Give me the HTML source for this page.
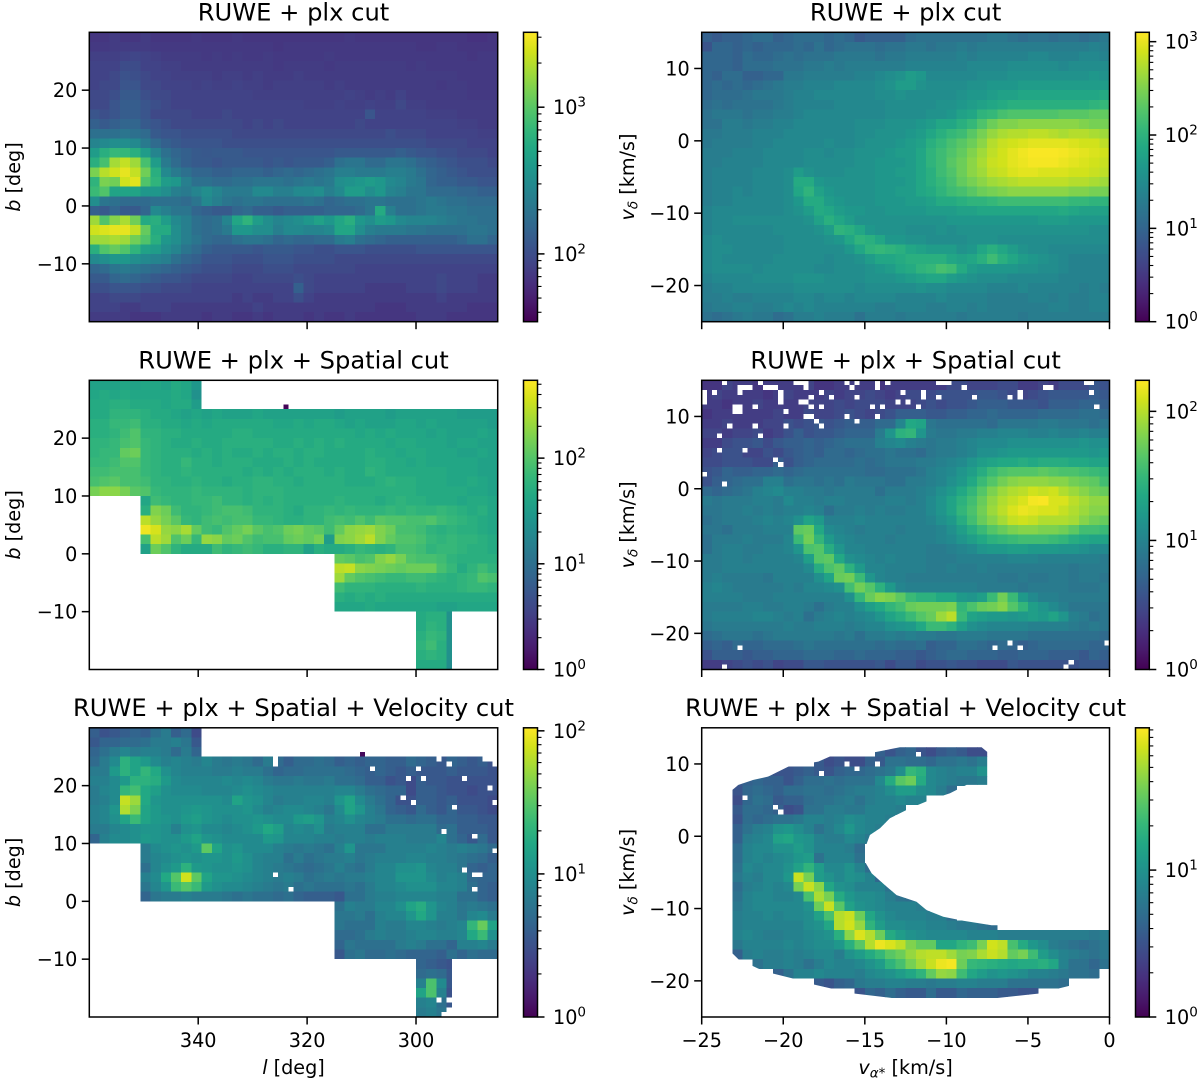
<!DOCTYPE html>
<html lang="en">
<head>
<meta charset="utf-8">
<title>RUWE plx spatial velocity cuts</title>
<style>
html,body{margin:0;padding:0;background:#fff;}
svg{display:block;font-family:"DejaVu Sans","Liberation Sans",sans-serif;fill:#000;}
</style>
</head>
<body>
<svg id="figure" xmlns="http://www.w3.org/2000/svg" width="1200" height="1081" viewBox="0 0 1200 1081"></svg>
<script>
/* Heatmap values: position on the log colour scale (1-100), 0 = empty bin. 40 columns, 30 rows, top row first. */
const galacticAll = [
[14,14,16,14,14,16,14,14,14,14,15,14,14,14,15,14,14,14,14,14,14,14,14,14,14,15,14,14,14,14,14,14,14,14,14,14,14,13,13,14],
[15,15,16,16,16,16,15,15,15,15,15,15,15,15,15,15,15,15,14,15,15,15,15,15,15,15,15,15,15,15,15,15,14,14,15,15,14,14,14,14],
[17,17,17,18,19,18,17,16,16,16,16,15,16,15,16,15,15,16,15,15,15,15,15,16,15,15,15,15,15,15,15,15,15,15,15,15,15,14,15,15],
[18,18,18,21,21,18,18,17,17,16,16,16,16,16,16,16,16,16,15,16,16,16,16,15,16,16,16,16,16,16,16,15,16,15,15,15,15,15,15,15],
[18,18,20,23,22,20,18,18,17,17,17,17,16,17,17,16,17,16,16,16,17,16,16,16,16,16,16,16,16,16,16,16,16,16,16,16,15,15,15,15],
[18,20,20,24,24,20,20,18,18,18,17,18,17,17,18,17,17,16,17,17,17,17,17,16,17,16,16,16,16,16,16,16,16,16,15,16,16,15,15,15],
[20,20,22,26,26,22,20,20,18,18,18,18,18,18,18,18,17,17,17,17,17,17,17,17,17,18,17,16,17,16,18,16,16,16,16,16,16,15,15,15],
[20,20,24,27,27,24,22,20,18,18,18,18,18,18,18,18,18,18,18,18,18,17,17,17,18,17,17,18,17,17,20,17,17,16,16,16,16,16,16,16],
[24,22,24,27,27,24,20,20,20,20,18,18,18,20,18,18,18,18,18,18,18,18,18,18,18,18,18,24,18,18,18,18,18,17,17,17,16,16,16,16],
[28,26,28,30,30,26,24,22,20,20,20,20,20,20,20,18,20,18,20,18,18,18,18,18,18,18,20,18,18,18,18,18,18,18,18,18,17,17,16,16],
[34,34,34,36,34,32,26,24,24,22,22,22,22,22,20,20,20,20,20,20,20,20,20,20,20,20,20,20,20,22,20,20,20,18,18,18,18,18,17,17],
[42,44,46,46,44,38,32,28,26,24,24,24,24,22,22,22,22,22,22,22,22,22,22,22,22,22,22,22,22,22,22,22,22,20,20,20,20,18,18,18],
[52,60,64,64,60,52,42,34,30,28,26,25,26,26,26,24,24,24,24,24,24,24,24,24,26,26,26,26,26,26,28,26,24,24,22,22,20,20,20,18],
[60,68,85,90,84,68,52,38,32,28,26,26,24,26,26,26,26,24,26,24,26,26,26,28,34,36,36,32,32,36,36,34,30,28,26,24,22,22,22,20],
[78,88,92,96,90,76,60,44,38,34,30,30,28,28,30,30,30,28,30,32,30,32,34,36,40,40,38,38,38,40,40,38,34,30,28,26,24,22,22,22],
[62,78,76,92,95,70,62,52,50,40,34,34,32,32,34,34,36,36,36,34,36,38,36,38,46,48,50,52,50,44,42,38,36,30,28,28,26,26,24,24],
[65,70,55,55,55,50,50,46,40,38,42,46,42,38,38,38,44,44,40,40,44,44,46,40,44,52,52,46,50,42,40,36,36,32,32,32,30,30,28,28],
[46,36,34,32,32,32,34,34,34,32,36,44,40,36,34,36,36,34,34,34,34,36,34,30,32,34,34,36,36,34,34,34,36,38,36,34,34,32,32,32],
[28,26,30,26,26,30,44,40,36,36,30,28,26,26,30,32,28,28,26,28,28,28,28,30,30,30,32,36,58,40,34,34,36,38,38,36,36,34,34,34],
[84,70,80,86,76,58,60,52,44,40,34,32,34,42,56,62,52,46,42,44,46,50,54,50,56,60,50,46,52,50,44,42,42,42,40,38,36,36,34,34],
[92,94,96,96,90,74,58,58,46,40,34,32,34,38,50,50,46,46,40,44,44,42,42,44,56,56,46,40,38,38,38,36,36,34,34,34,34,36,36,34],
[84,84,86,84,76,70,60,50,46,40,36,32,30,30,34,36,36,34,30,32,30,30,32,32,38,40,34,32,30,28,28,28,28,28,28,28,30,34,34,30],
[60,70,74,70,62,54,52,46,42,36,32,28,26,26,26,26,24,26,26,26,24,24,22,22,24,24,24,22,22,22,22,22,24,24,24,24,24,24,24,24],
[44,46,50,50,46,44,42,40,34,30,28,24,24,24,22,22,22,24,24,24,22,22,22,22,20,20,20,20,20,20,20,20,20,20,20,20,20,20,20,20],
[30,32,36,38,36,34,32,30,28,26,24,22,22,22,20,20,20,22,22,22,20,20,20,20,20,20,18,18,18,18,18,18,18,18,18,18,18,18,18,18],
[26,26,30,32,30,28,26,24,24,22,20,20,20,20,18,18,20,20,20,20,22,20,18,18,18,18,18,18,18,18,18,18,18,18,20,18,18,18,16,16],
[22,22,24,24,24,22,22,20,20,20,18,18,18,18,18,18,18,18,18,18,28,20,18,18,18,18,18,16,16,16,16,18,18,18,20,18,18,18,16,16],
[18,18,20,20,20,18,18,18,18,18,18,18,18,18,16,18,16,16,18,18,22,18,16,16,16,16,16,16,16,16,16,16,16,16,18,16,16,16,16,16],
[18,18,18,16,16,18,18,18,16,16,16,16,16,16,16,16,18,16,16,16,16,16,16,16,16,16,16,16,14,14,14,16,16,16,16,16,16,14,14,14],
[16,16,16,16,14,14,14,16,16,16,16,14,16,16,14,14,16,14,16,16,16,14,16,14,14,16,14,14,14,14,14,14,16,16,16,14,14,14,14,14]
];
const galacticAllStarts = [];

const velocityAll = [
[24,22,24,24,26,28,28,24,26,28,28,28,26,28,26,22,24,24,24,24,28,30,30,30,30,30,30,30,32,32,30,28,30,30,28,30,30,28,30,32],
[20,26,26,24,26,24,26,26,26,28,26,30,26,28,30,30,30,28,30,30,32,32,30,32,32,34,32,34,34,34,34,34,34,34,34,34,34,34,36,34],
[26,26,26,24,28,26,26,28,30,28,30,30,30,32,32,32,32,30,32,32,34,34,34,34,34,36,34,36,36,36,36,36,38,38,36,36,36,38,38,36],
[26,26,26,24,28,28,28,30,30,30,32,32,34,32,34,34,34,34,34,34,36,36,36,36,36,36,38,38,38,38,40,40,40,40,40,38,40,40,40,40],
[26,24,28,28,24,24,26,26,32,32,34,34,34,34,34,36,36,38,40,42,46,44,38,38,38,38,38,40,40,40,42,42,42,42,42,42,42,42,44,42],
[26,28,26,28,26,28,30,32,34,34,36,36,36,38,38,38,38,40,42,46,46,42,40,40,40,40,42,42,44,44,44,46,46,46,46,46,46,46,46,46],
[26,28,28,28,30,32,32,32,34,36,36,38,38,38,38,38,38,40,40,42,40,40,40,40,40,42,44,44,46,48,48,50,50,50,50,50,50,50,50,52],
[28,30,28,30,30,30,30,32,34,36,36,36,36,38,38,38,38,38,40,40,40,40,40,42,42,44,46,48,50,52,54,54,54,54,54,54,54,54,56,58],
[30,32,32,32,30,32,32,34,34,36,38,38,38,38,38,38,38,38,40,40,40,40,42,42,44,48,50,56,58,62,64,64,64,64,64,66,66,66,68,68],
[30,30,34,34,32,34,34,36,36,38,38,38,38,38,38,40,40,40,42,42,42,44,46,50,50,54,58,64,70,74,74,76,76,76,76,76,76,74,72,72],
[32,32,34,34,34,36,36,36,38,38,38,38,38,38,38,40,40,42,42,42,44,46,50,54,58,60,66,72,78,82,84,84,86,86,84,82,84,84,82,80],
[32,34,34,34,34,36,36,38,38,38,38,38,40,38,38,40,42,42,42,44,46,48,54,58,62,66,70,76,84,88,90,92,94,94,94,94,92,90,90,86],
[34,34,34,36,36,36,38,38,38,38,40,40,38,40,40,42,42,42,44,46,46,50,56,60,64,68,74,80,86,90,94,97,99,99,99,98,96,94,92,90],
[34,34,36,36,36,36,38,38,38,38,40,40,40,40,40,42,42,44,44,44,46,50,56,60,66,70,76,82,88,90,94,96,98,98,98,96,94,92,90,88],
[34,36,36,36,36,38,38,38,40,46,42,40,40,40,42,42,42,44,44,46,46,50,54,60,64,70,76,80,86,88,92,94,94,92,92,92,90,90,88,86],
[34,36,36,36,36,38,38,38,40,52,52,44,42,42,42,42,42,44,44,44,46,50,54,58,62,68,72,76,80,82,84,86,86,86,86,86,84,84,82,80],
[34,36,36,38,36,38,38,38,40,50,56,48,44,42,42,42,42,44,44,46,46,50,52,56,60,62,66,70,72,74,76,76,76,76,76,76,74,74,72,72],
[34,36,36,38,38,38,38,38,40,44,52,52,46,44,42,42,42,44,44,44,46,46,48,52,52,54,56,56,58,60,60,60,60,60,60,60,58,58,56,56],
[36,38,38,38,38,38,38,38,40,42,46,52,50,46,44,44,42,42,44,44,44,44,46,46,46,48,48,50,50,50,50,50,50,50,50,52,50,48,48,48],
[36,38,38,40,40,40,40,40,40,40,42,48,54,50,46,42,42,42,42,42,42,42,42,42,44,44,44,44,44,44,44,44,44,46,46,46,44,44,44,44],
[36,38,38,38,38,38,38,40,40,40,40,42,46,56,54,50,44,42,42,42,40,40,40,42,40,42,42,42,42,42,42,42,42,42,42,42,42,42,40,40],
[38,40,38,38,38,38,38,38,40,40,40,40,42,44,50,56,54,50,44,44,42,42,40,40,40,40,42,42,42,40,40,40,40,40,40,40,40,40,40,40],
[38,40,40,38,38,38,38,38,40,40,40,40,40,40,44,50,56,58,56,54,50,48,46,46,46,42,44,50,54,50,46,42,40,40,38,38,38,38,38,38],
[38,40,38,38,38,38,38,40,40,40,40,40,38,40,40,42,46,50,50,52,54,54,54,54,50,48,50,54,60,54,50,46,44,42,40,38,36,36,36,36],
[38,40,40,40,40,38,40,40,40,40,40,38,38,40,40,40,42,44,46,50,52,56,58,62,60,52,46,44,44,44,44,42,42,40,40,38,36,36,36,36],
[36,38,38,38,38,40,40,40,40,42,42,42,40,40,40,40,42,42,42,44,46,48,50,50,46,44,42,40,40,40,38,38,38,38,38,36,36,36,36,36],
[34,36,36,38,38,38,38,38,38,40,40,40,40,40,40,38,40,40,40,40,40,42,40,40,38,38,38,38,36,36,36,38,36,36,36,36,36,34,36,34],
[34,34,36,34,34,36,36,36,36,38,38,36,38,38,36,38,38,38,38,36,36,36,36,38,36,36,36,36,34,34,34,34,36,36,34,36,34,34,36,36],
[32,34,34,36,36,34,34,36,38,36,38,36,36,36,36,36,36,34,34,36,36,36,34,34,36,36,34,36,34,34,34,34,34,34,36,36,34,34,36,36],
[30,28,30,32,34,32,32,28,30,34,34,36,34,34,34,30,34,34,34,32,34,34,34,34,34,32,34,34,34,34,34,32,34,34,34,34,34,34,34,34]
];
const velocityAllStarts = [];

const galacticSpatial = [
[46,46,46,48,46,48,48,46,50,48,42],
[48,50,48,50,48,48,48,48,50,48,40],
[50,50,52,52,50,50,50,48,50,50,44],
[50,50,54,54,54,52,50,50,48,46,48,46,48,46,46,46,48,46,46,46,46,46,46,46,44,46,46,46,46,44,46,46,46,46,46,46,44,44,44,44],
[52,52,56,56,58,52,52,50,50,48,50,48,50,50,50,50,50,50,48,48,50,48,50,50,48,46,48,46,46,46,48,48,46,48,46,46,46,46,46,44],
[52,52,54,58,62,54,54,52,52,50,50,50,50,50,52,52,50,50,50,50,50,50,50,50,50,50,48,50,48,50,48,48,48,46,48,46,46,46,48,46],
[54,54,56,60,62,56,54,52,50,50,52,50,50,52,52,52,52,52,50,50,52,50,52,50,52,50,50,50,50,48,50,50,48,48,48,46,48,48,46,46],
[54,56,56,66,68,56,54,52,52,52,50,52,50,52,50,50,52,50,52,52,50,52,52,50,50,50,50,52,50,50,48,50,50,48,48,48,46,46,48,46],
[56,56,58,62,62,56,54,52,52,56,52,52,50,52,52,52,50,50,50,52,50,52,50,50,50,50,50,52,52,50,50,48,50,48,48,48,48,48,46,46],
[58,58,60,60,60,56,54,52,52,54,52,52,52,52,52,50,52,50,52,50,52,52,52,50,52,50,50,54,52,50,50,50,50,50,50,48,48,48,46,46],
[60,62,64,60,60,58,54,54,52,52,54,52,52,50,52,52,54,54,52,52,50,52,52,52,52,50,50,50,52,54,52,52,50,50,50,48,48,50,48,46],
[70,74,74,70,64,62,56,54,54,54,56,54,54,54,54,52,54,54,54,52,52,52,52,52,52,52,52,52,52,52,52,52,50,50,50,50,50,48,48,46],
[48,58,56,54,54,56,56,58,54,54,52,54,52,54,52,52,52,52,52,54,52,52,52,50,52,54,52,52,50,50,50,48,50,50,48],
[52,72,68,58,54,54,56,58,60,60,58,54,54,54,52,50,54,54,56,54,56,54,54,54,56,54,56,54,54,56,54,52,50,52,48],
[84,76,70,64,56,54,58,60,58,60,60,56,56,54,52,52,54,54,58,60,58,62,58,64,62,62,60,60,62,58,56,54,52,50,48],
[96,90,76,74,80,66,58,56,62,66,70,64,60,62,68,70,66,64,58,66,74,76,78,72,68,60,60,58,54,52,54,52,52,50,48],
[60,84,78,62,68,56,76,74,66,68,62,58,60,60,66,68,66,70,44,72,74,78,84,72,66,62,62,60,56,54,56,54,54,52,50],
[46,68,62,54,50,50,50,58,54,56,58,56,52,52,54,54,46,52,50,50,52,56,54,52,54,60,60,58,54,56,56,54,52,52,50],
[66,64,60,62,72,76,70,62,60,60,58,54,52,52,52,52],
[84,86,74,72,70,68,66,68,68,68,60,56,50,54,58,54],
[78,66,62,60,58,56,56,58,58,56,54,52,54,56,62,60],
[58,54,54,54,52,52,52,52,54,52,52,52,54,56,56,54],
[52,50,52,50,52,50,50,50,50,50,50,50,50,50,50,50],
[48,48,48,50,48,48,48,48,48,48,46,46,48,48,48,48],
[50,52,52,40],
[50,54,52,40],
[52,56,54,40],
[54,58,52,40],
[52,54,52,40],
[50,50,50,38]
];
const galacticSpatialStarts = [0,0,0,0,0,0,0,0,0,0,0,0,5,5,5,5,5,5,24,24,24,24,24,24,32,32,32,32,32,32];

const velocitySpatial = [
[12,12,16,14,14,12,14,14,14,14,16,12,12,14,14,14,14,12,14,14,14,14,14,14,18,18,16,16,16,18,18,14,14,16,14,18,18,18,22,20],
[14,16,14,14,14,14,12,14,16,14,14,14,16,14,16,16,18,16,14,16,18,18,18,20,20,20,20,22,22,20,18,16,18,20,22,22,22,22,24,22],
[14,14,12,14,14,16,14,14,14,14,16,16,16,18,16,18,18,18,16,16,16,18,20,18,20,20,22,24,24,24,22,22,22,20,24,24,24,26,26,24],
[12,14,14,14,14,14,14,16,14,14,18,16,16,18,20,18,16,18,20,24,24,24,22,22,24,24,26,26,28,26,26,26,26,28,28,28,28,30,30,28],
[14,14,16,14,14,14,16,16,20,18,20,22,20,22,24,24,24,28,28,38,52,50,32,30,30,30,30,30,28,32,32,32,32,34,34,32,32,32,30,32],
[16,16,14,16,16,18,14,16,20,24,20,22,22,24,26,26,26,34,44,56,58,44,34,32,32,34,34,36,36,38,38,38,36,36,38,36,36,38,36,36],
[14,14,18,20,20,22,18,22,24,24,26,24,26,28,30,30,30,36,38,40,36,34,32,34,34,36,38,40,40,40,42,42,42,42,42,42,42,44,42,42],
[16,18,20,20,16,16,20,18,22,24,26,24,28,28,26,28,30,30,32,30,30,28,32,34,34,36,38,42,42,44,46,46,46,46,46,46,46,46,44,46],
[18,18,20,20,20,18,18,24,20,24,26,28,28,28,28,30,28,30,32,32,32,34,34,36,38,40,44,48,50,52,52,54,52,54,54,54,52,52,50,50],
[20,22,26,24,24,26,26,28,26,28,30,30,30,30,30,30,28,28,30,30,30,32,36,38,40,44,48,54,60,64,66,66,66,68,66,64,64,62,60,58],
[20,24,26,28,30,30,36,36,30,32,32,30,32,30,34,32,32,32,30,30,34,34,36,38,42,46,52,60,66,72,76,78,78,78,76,76,72,70,68,62],
[28,26,28,30,32,36,38,40,36,36,34,34,32,34,34,34,34,30,34,34,34,36,38,42,46,52,58,66,74,80,84,86,90,88,90,84,80,76,72,70],
[34,32,34,34,34,36,36,34,40,36,36,34,36,36,34,34,34,34,36,36,34,36,40,44,50,56,62,70,78,84,88,92,98,99,92,92,86,82,78,78],
[32,32,34,34,36,34,36,34,36,36,38,36,30,34,34,36,34,36,34,34,36,36,40,44,50,58,64,72,80,86,92,96,94,92,92,88,84,80,76,76],
[30,32,34,34,34,36,38,36,38,42,50,46,36,36,36,38,36,36,36,36,36,36,38,42,46,54,62,70,76,82,88,90,88,84,84,84,82,76,72,70],
[32,32,30,34,34,34,36,36,36,68,70,52,40,38,36,34,36,36,36,34,36,36,36,38,42,48,54,60,66,70,74,76,76,74,74,72,68,62,62,60],
[30,34,34,34,36,34,34,34,38,60,72,58,46,40,38,36,36,36,34,36,36,36,36,38,40,44,48,52,56,58,60,62,62,62,60,58,54,52,50,50],
[30,34,36,36,34,34,36,36,38,44,64,66,54,44,38,38,36,36,36,36,36,36,34,34,36,38,40,44,46,46,48,48,46,46,46,44,44,42,40,40],
[34,34,36,36,34,36,36,36,36,38,48,66,68,52,42,40,38,36,38,36,36,36,34,34,34,36,36,36,36,36,38,38,38,36,36,36,36,36,36,34],
[34,34,36,36,36,36,36,36,36,36,40,54,64,68,56,46,38,38,36,36,36,36,34,34,36,34,34,36,34,34,34,34,34,34,34,34,32,34,34,34],
[34,36,34,34,34,34,32,36,36,36,36,42,50,70,72,60,44,38,36,36,34,34,34,34,34,34,34,34,34,32,32,34,32,32,34,34,32,34,34,32],
[36,38,36,34,34,34,34,34,36,34,38,38,40,42,62,72,66,56,46,38,36,36,36,36,36,36,36,34,34,34,34,32,34,34,34,34,32,32,32,34],
[36,36,36,36,34,34,34,36,36,36,36,36,36,36,42,58,70,76,74,68,60,56,56,52,52,46,44,48,60,72,60,46,40,36,36,34,34,34,34,34],
[34,34,34,34,36,36,34,34,36,36,34,30,34,36,36,42,48,52,58,62,70,72,72,72,74,58,64,70,72,76,66,58,48,44,40,36,32,32,32,32],
[34,36,36,36,36,38,38,36,34,36,30,34,36,38,36,38,40,44,50,54,60,66,70,80,86,60,50,48,46,46,44,46,48,46,50,44,36,34,30,32],
[32,34,34,34,34,34,34,34,36,34,34,36,36,36,34,36,38,38,42,44,46,52,60,60,56,48,42,40,38,38,38,38,36,36,36,36,34,32,34,32],
[28,30,32,32,32,30,32,34,34,34,34,34,34,32,34,30,34,34,36,34,36,34,34,32,32,34,34,34,32,32,32,32,30,30,30,30,30,30,30,28],
[24,26,24,28,26,26,28,28,28,30,32,30,30,30,30,30,30,28,30,28,28,30,24,26,26,30,30,28,26,28,26,24,26,28,28,28,28,28,26,26],
[20,24,24,24,22,24,24,26,26,26,28,28,28,26,26,28,26,26,26,24,24,22,24,26,28,28,26,26,26,24,24,26,26,26,24,24,24,22,26,24],
[14,14,16,18,20,18,20,16,18,18,22,22,20,20,20,20,20,22,18,22,22,18,20,20,22,20,20,18,18,18,22,20,20,20,20,20,20,22,22,22]
];
const velocitySpatialStarts = [];

const galacticFull = [
[24,20,22,24,26,24,30,34,24,28,18],
[22,26,26,28,28,30,34,34,36,32,22],
[26,30,34,38,34,36,36,34,28,34,26],
[28,34,40,56,50,46,40,36,38,36,34,38,34,32,34,32,28,34,28,24,28,28,30,28,24,26,24,26,26,24,24,28,26,24,22,26,24,22,24,20],
[34,34,46,56,50,58,52,42,38,36,36,36,34,34,36,34,34,30,26,28,28,30,30,30,30,28,26,24,26,24,22,24,22,22,22,24,22,22,22,20],
[36,36,40,46,56,56,54,46,40,38,38,38,38,40,38,40,38,34,32,32,34,32,32,34,30,30,28,24,24,20,22,18,24,22,22,20,20,20,20,20],
[34,38,40,58,62,52,48,42,40,40,40,38,38,38,40,42,40,38,36,36,36,36,36,36,38,38,34,30,28,26,26,18,24,24,22,20,20,18,20,20],
[34,36,40,88,80,52,44,42,42,42,42,42,42,40,50,44,42,38,34,36,36,38,38,36,44,50,40,34,30,26,20,20,24,24,22,24,20,20,20,18],
[36,38,44,84,74,50,46,42,42,44,46,44,42,42,42,44,40,36,38,40,40,38,36,32,40,50,44,36,32,26,24,22,28,24,22,26,22,22,20,18],
[36,38,42,50,60,50,46,44,42,46,48,44,42,40,42,42,44,42,40,40,46,48,44,36,38,42,38,36,34,30,30,28,30,30,26,26,24,24,22,22],
[34,34,38,40,42,44,44,42,36,42,44,40,40,38,40,42,46,52,48,38,40,38,42,34,36,36,36,30,30,34,34,34,34,34,28,30,24,24,24,22],
[26,36,40,40,42,46,44,42,42,46,50,44,42,40,40,40,40,46,44,38,38,38,36,36,34,36,36,34,36,36,36,34,34,34,38,30,26,22,28,22],
[34,40,42,44,42,46,68,50,42,44,40,40,40,36,34,32,34,32,30,36,44,32,32,32,36,36,36,36,38,36,34,36,34,32,28],
[34,38,40,42,44,42,44,44,42,46,42,38,36,36,30,34,30,32,34,34,36,32,34,36,36,36,38,38,36,36,34,32,30,28,24],
[30,38,42,46,56,46,44,42,42,44,42,38,36,34,32,30,28,30,32,36,32,30,34,38,38,42,42,44,38,36,36,32,26,24,26],
[36,40,52,66,90,68,50,44,44,42,40,38,36,34,36,34,30,32,34,32,34,34,36,38,38,44,44,44,40,36,38,36,28,26,26],
[32,38,44,60,66,60,46,42,40,40,38,36,34,32,34,30,32,30,30,30,32,30,34,38,38,40,42,42,42,38,38,36,30,26,24],
[26,32,34,34,36,34,34,34,32,30,32,30,30,28,30,26,24,24,24,22,30,30,34,36,36,38,38,38,38,36,36,30,30,26,24],
[30,36,34,34,38,38,42,50,54,44,38,36,32,34,32,30],
[32,32,34,30,36,38,38,44,52,44,36,36,32,38,40,34],
[32,30,30,30,36,34,34,38,38,36,34,36,38,58,70,50],
[28,28,30,34,36,34,34,36,38,38,36,36,38,52,60,42],
[26,32,30,30,30,30,34,36,34,30,30,26,36,36,38,34],
[22,30,32,28,28,30,28,26,26,26,24,30,26,30,28,28],
[26,24,22,20],
[28,30,28,22],
[36,64,40,22],
[50,64,36,20],
[36,38,30,22],
[34,36,32]
];
const galacticFullStarts = [0,0,0,0,0,0,0,0,0,0,0,0,5,5,5,5,5,5,24,24,24,24,24,24,32,32,32,32,32,32];

const velocityFull = [
[],
[],
[24,20,24,26,20,18,22,24,22,18,18],
[22,18,20,18,18,24,22,30,30,28,28,26,30,30,32,30,34],
[22,20,20,22,24,22,20,24,26,26,28,30,32,40,58,54,38,36,34,36,36,42],
[22,24,26,24,24,20,24,28,28,30,28,30,30,30,38,52,66,70,52,38,36,34,32,32,34],
[20,26,28,26,24,28,28,30,30,28,30,32,34,34,36,40,46,46,40,38,34,28],
[18,26,30,28,22,24,24,28,30,30,32,34,30,34,36,36,38,36,36],
[22,28,28,26,24,18,20,30,30,34,34,32,32,36,36,36,34],
[20,28,26,28,30,30,32,36,36,34,36,40,38,36,36,34],
[24,30,34,36,42,44,40,36,30,34,38,44,38,36,34],
[24,34,36,38,48,50,44,42,36,34,34,38,36,32],
[28,36,38,38,42,42,46,42,36,36,36,34,28],
[28,36,38,36,38,40,44,46,30,36,36,36,30],
[30,38,36,38,38,42,48,56,46,38,38,42,36,28],
[32,36,34,38,38,44,88,72,46,42,38,42,40,36,26,24],
[28,34,36,38,36,38,72,88,76,50,42,40,36,36,36,30,26],
[30,36,38,38,36,36,38,62,82,72,52,44,40,40,38,34,30,28,26],
[32,36,38,38,38,38,38,42,70,88,66,48,42,40,38,36,36,36,34,30,28],
[34,36,36,38,36,38,38,40,48,62,84,88,70,50,42,38,36,36,36,34,34,28],
[34,36,36,36,36,36,36,40,42,50,84,90,78,56,46,40,40,38,38,36,36,34,32,32,30,28],
[36,38,36,34,34,36,36,38,40,42,54,76,92,84,70,52,46,42,40,38,38,38,38,36,36,36,34,34,34,34,34,34,34,34,34,32,34],
[32,36,36,36,36,38,36,38,40,40,44,54,66,84,96,92,86,74,68,68,50,50,56,60,72,90,86,62,52,44,40,34,32,30,28,30,32],
[24,34,36,34,34,36,34,36,38,38,34,42,46,52,58,66,70,78,84,86,86,80,72,74,82,88,84,68,72,60,46,40,36,34,32,30,32],
[30,34,34,36,34,30,34,38,36,36,38,42,46,56,62,72,80,88,96,98,70,58,56,54,52,50,52,52,54,50,36,30,30,26,30],
[24,30,36,36,38,36,36,36,34,38,40,42,46,50,56,68,78,76,60,50,46,42,44,42,40,36,36,34,32,30,30,28],
[22,20,24,26,32,34,34,36,36,34,34,32,34,34,36,36,34,34,34,30,30,30,30,30,28],
[20,26,24,28,24,22,22,28,22,22,26,24,24,24,22,22,20,20],
[],
[]
];
const velocityFullStarts = [0,0,17,11,6,3,3,3,3,3,3,3,3,3,3,3,3,3,3,3,3,3,3,3,5,7,11,15,0,0];

/* Empty single bins on the finer native histogram grid: [column of 80, row of 60]. */
const holesVelocitySpatial = [[4,0],[7,1],[8,1],[9,1],[7,2],[12,1],[13,1],[14,1],[15,2],[15,3],[15,4],[18,0],[19,0],[20,0],[20,1],[11,0],[0,2],[0,3],[0,4],[2,2],[29,1],[28,0],[30,0],[34,0],[34,1],[36,0],[46,0],[47,0],[48,0],[51,1],[43,2],[43,3],[62,2],[62,3],[67,1],[68,1],[75,0],[76,0],[76,2],[77,5],[39,2],[38,4],[40,4],[42,5],[33,5],[35,5],[30,3],[25,3],[23,2],[21,3],[19,4],[20,4],[21,5],[23,5],[16,6],[6,5],[7,5],[6,6],[7,6],[10,5],[20,7],[21,7],[22,8],[23,9],[28,7],[30,8],[34,7],[5,9],[10,9],[16,9],[3,11],[11,11],[3,14],[8,14],[14,16],[15,17],[0,19],[4,21],[46,3],[53,3],[60,3],[7,55],[4,59],[57,55],[60,54],[62,55],[79,54],[71,59],[72,58]];
const holesGalacticFull = [[36,7],[36,6],[55,8],[64,8],[62,10],[65,10],[73,10],[70,7],[79,7],[78,12],[61,14],[63,15],[79,15],[71,16],[69,21],[75,22],[79,25],[73,29],[75,30],[76,30],[36,30],[39,33],[75,33],[68,56],[70,56],[68,6],[77,6],[78,6],[79,6],[70,58],[70,59],[69,59]];
const holesVelocityFull = [[8,14],[14,16],[15,17],[23,9],[28,7],[30,8],[34,7],[42,5]];

/* Isolated low-count bins outside the main footprint: [column of 80, row of 60, colour level]. */
const strayGalacticSpatial = [[38,5,1]];
const strayGalacticFull = [[53,5,2]];

/* Regions with no coverage: [l start, l end, b bottom, b top]. */
const surveyGaps = [[339.4,285,25,30],[360,350.6,-20,10],[350.6,315,-20,0],[315,300,-20,-10],[293.4,285,-20,-10]];

/* Velocity-cut selection outline. */
const selectionVAlpha = [-7.5,-7.5,-8.76,-9.78,-11.01,-12.23,-13.46,-14.07,-14.69,-14.99,-14.99,-14.58,-13.77,-13.05,-11.83,-11.21,-10.19,-8.97,-7.23,-2.84,-0.59,0,0,-0.69,-1.92,-3.15,-4.37,-7.23,-13.05,-15.6,-17.03,-18.36,-19.38,-20.61,-21.53,-22.75,-23.12,-23.12,-22.75,-21.83,-20.91,-19.69,-17.85,-17.14,-16.22,-14.28,-12.85,-7.84];
const selectionVDelta = [11.67,7.1,7.1,5.95,5.02,3.87,2.48,1.1,0.17,-1.67,-3.52,-5.14,-6.76,-8.14,-9.07,-10.22,-11.14,-11.7,-12.3,-12.3,-11.14,-10.96,-19,-19.69,-20.38,-21.07,-21.77,-22.46,-22.46,-21.77,-21.07,-20.38,-19.69,-19,-18.3,-17,-16.2,6.41,7.1,7.8,8.26,9.64,10.33,11.03,11.03,11.67,12.32,12.32];

/* Axis tick labels and colour-scale limits. */
const galacticXTicks = [340,320,300];
const galacticYTicks = [-10,0,10,20];
const velocityXTicks = [-25,-20,-15,-10,-5,0];
const velocityYTicks = [-20,-10,0,10];
const panelTitles = ["RUWE + plx cut","RUWE + plx + Spatial cut","RUWE + plx + Spatial + Velocity cut"];
const colourMinimum = [34.5,1,1,1,1,1];
const colourMaximum = [3240,1260,545,174,105,93];
const toneLift = [3,9,11,8,8,9];
const viridisStops = ["#440154","#481a6c","#472f7d","#414487","#39568c","#31688e","#2a788e","#23888e","#1f988b","#22a884","#35b779","#54c568","#7ad151","#a5db36","#d2e21b","#fde725"];

const rowEdges = [[32.3,321.7],[380.3,669.5],[727.8,1017]];
const colEdges = [[89.3,497.7],[701.7,1109.5]];
const barEdges = [[523.5,537.5],[1135.5,1149.3]];
const galacticGrid = [galacticAll,galacticSpatial,galacticFull];
const galacticStarts = [galacticAllStarts,galacticSpatialStarts,galacticFullStarts];
const velocityGrid = [velocityAll,velocitySpatial,velocityFull];
const velocityStarts = [velocityAllStarts,velocitySpatialStarts,velocityFullStarts];
const galacticHoles = [[],[],holesGalacticFull];
const velocityHoles = [[],holesVelocitySpatial,holesVelocityFull];
const galacticStrays = [[],strayGalacticSpatial,strayGalacticFull];

const NS = "http://www.w3.org/2000/svg";
const figure = document.getElementById("figure");
const GRID_COLS = 40, GRID_ROWS = 30, FINE_COLS = 80, FINE_ROWS = 60;

function make(tag, attrs, parent) {
  const el = document.createElementNS(NS, tag);
  for (const k in attrs) el.setAttribute(k, attrs[k]);
  parent.appendChild(el);
  return el;
}
function viridis(t) {
  const c = Math.max(0, Math.min(1, t)) * (viridisStops.length - 1);
  const i = Math.min(Math.floor(c), viridisStops.length - 2), f = c - i;
  const a = viridisStops[i], b = viridisStops[i + 1];
  const ch = (s, p) => parseInt(s.substr(p, 2), 16);
  const mix = p => Math.round(ch(a, p) + (ch(b, p) - ch(a, p)) * f);
  return "rgb(" + mix(1) + "," + mix(3) + "," + mix(5) + ")";
}
function levelColour(level, lift) {
  const t = level / 100;
  return viridis(t + (lift / 100) * 4 * t * (1 - t));
}
function linearScale(d0, d1, r0, r1) {
  return v => r0 + (v - d0) / (d1 - d0) * (r1 - r0);
}
function tickText(v) {
  return String(v).replace("-", "\u2212");
}

function drawPanel(opts) {
  const g = make("g", {}, figure);
  
  
  const [x0, x1] = opts.xRange, [y0, y1] = opts.yRange;
  const xScale = linearScale(opts.xDomain[0], opts.xDomain[1], x0, x1);
  const yScale = linearScale(opts.yDomain[0], opts.yDomain[1], y1, y0);
  const xEdge = i => xScale(opts.xDomain[0] + (opts.xDomain[1] - opts.xDomain[0]) * i);
  const yEdge = j => yScale(opts.yDomain[1] + (opts.yDomain[0] - opts.yDomain[1]) * j);

  const heat = make("g", {"shape-rendering": "crispEdges"}, g);
  
  
  if (opts.outline) {
    const clip = make("clipPath", {id: opts.name + "-clip"}, g);
    const pts = opts.outline[0].map((v, i) => xScale(v).toFixed(1) + "," + yScale(opts.outline[1][i]).toFixed(1)).join(" ");
    make("polygon", {points: pts}, clip);
    heat.setAttribute("clip-path", "url(#" + opts.name + "-clip)");
  }
  opts.grid.forEach((row, j) => {
    const start = opts.starts[j] || 0;
    row.forEach((level, k) => {
      if (!level) return;
      const i = start + k;
      const left = xEdge(i / GRID_COLS), right = xEdge((i + 1) / GRID_COLS);
      const top = yEdge(j / GRID_ROWS), bottom = yEdge((j + 1) / GRID_ROWS);
      const cell = make("rect", {x: left.toFixed(2), y: top.toFixed(2), width: (right - left + 0.3).toFixed(2), height: (bottom - top + 0.3).toFixed(2), fill: levelColour(level, opts.lift)}, heat);
      
      
    });
  });
  (opts.gaps || []).forEach(gap => {
    const left = xScale(gap[0]), right = xScale(gap[1]), top = yScale(gap[3]), bottom = yScale(gap[2]);
    const r = make("rect", {x: left, y: top, width: right - left, height: bottom - top, fill: "#fff"}, heat);
    
    
  });
  opts.holes.forEach(h => {
    const left = xEdge(h[0] / FINE_COLS), top = yEdge(h[1] / FINE_ROWS);
    const r = make("rect", {x: left, y: top, width: xEdge((h[0] + 1) / FINE_COLS) - left, height: yEdge((h[1] + 1) / FINE_ROWS) - top, fill: "#fff"}, heat);
    
    
  });
  (opts.strays || []).forEach(h => {
    const left = xEdge(h[0] / FINE_COLS), top = yEdge(h[1] / FINE_ROWS);
    const r = make("rect", {x: left, y: top, width: xEdge((h[0] + 1) / FINE_COLS) - left, height: yEdge((h[1] + 1) / FINE_ROWS) - top, fill: viridis(h[2] / 100)}, heat);
    
    
  });

  const frame = make("rect", {x: x0, y: y0, width: x1 - x0, height: y1 - y0, fill: "none", stroke: "#000", "stroke-width": 1.5}, g);
  
  

  opts.xTicks.forEach(t => {
    const x = xScale(t);
    const tick = make("line", {x1: x, x2: x, y1: y1, y2: y1 + 7.5, stroke: "#000", "stroke-width": 1.5}, g);
    
    
    if (opts.showX) {
      const lab = make("text", {x: x, y: y1 + 30, "text-anchor": "middle", "font-size": 19.2}, g);
      
      
      lab.textContent = tickText(t);
    }
  });
  opts.yTicks.forEach(t => {
    const y = yScale(t);
    const tick = make("line", {x1: x0 - 7.5, x2: x0, y1: y, y2: y, stroke: "#000", "stroke-width": 1.5}, g);
    
    
    const lab = make("text", {x: x0 - 12, y: y + 7, "text-anchor": "end", "font-size": 19.2}, g);
    
    
    lab.textContent = tickText(t);
  });

  const title = make("text", {x: (x0 + x1) / 2, y: y0 - 12, "text-anchor": "middle", "font-size": 24.2}, g);
  
  
  title.textContent = opts.title;

  const yMid = (y0 + y1) / 2;
  const yLabel = make("text", {x: opts.yLabelX, y: yMid, "text-anchor": "middle", "font-size": 19.2, transform: "rotate(-90 " + opts.yLabelX + " " + yMid + ")"}, g);
  
  
  yLabel.innerHTML = opts.yLabel;

  if (opts.showX) {
    const xLabel = make("text", {x: (x0 + x1) / 2, y: y1 + 57, "text-anchor": "middle", "font-size": 19.2}, g);
    
    
    xLabel.innerHTML = opts.xLabel;
  }

  /* colour bar */
  const [b0, b1] = opts.barRange;
  const gradId = opts.name + "-gradient";
  const grad = make("linearGradient", {id: gradId, x1: 0, y1: 1, x2: 0, y2: 0}, g);
  viridisStops.forEach((c, i) => make("stop", {offset: i / (viridisStops.length - 1), "stop-color": c}, grad));
  const bar = make("rect", {x: b0, y: y0, width: b1 - b0, height: y1 - y0, fill: "url(#" + gradId + ")", stroke: "#000", "stroke-width": 1.5}, g);
  
  
  const logMin = Math.log10(opts.vmin), logMax = Math.log10(opts.vmax);
  const barY = v => y1 - (Math.log10(v) - logMin) / (logMax - logMin) * (y1 - y0);
  for (let d = Math.floor(logMin); d <= Math.ceil(logMax); d++) {
    for (let m = 1; m <= 9; m++) {
      const v = m * Math.pow(10, d);
      if (v < opts.vmin * 0.999 || v > opts.vmax * 1.001) continue;
      const y = barY(v);
      const tick = make("line", {x1: b1, x2: b1 + (m === 1 ? 7 : 4), y1: y, y2: y, stroke: "#000", "stroke-width": m === 1 ? 1.5 : 1.1}, g);
      
      
      if (m === 1) {
        const lab = make("text", {x: b1 + 15.5, y: y + 7, "font-size": 19.2}, g);
        
        
        lab.innerHTML = '10<tspan dy="-7.5" font-size="13.5">' + d + '</tspan>';
      }
    }
  }
}

const bLabel = '<tspan font-style="italic">b</tspan> [deg]';
const lLabel = '<tspan font-style="italic">l</tspan> [deg]';
const vdLabel = '<tspan font-style="italic">v</tspan><tspan dy="3.5" font-size="13.5" font-style="italic">\u03B4</tspan><tspan dy="-3.5"> [km/s]</tspan>';
const vaLabel = '<tspan font-style="italic">v</tspan><tspan dy="3.5" font-size="13.5" font-style="italic">\u03B1*</tspan><tspan dy="-3.5"> [km/s]</tspan>';

panelTitles.forEach((title, r) => {
  drawPanel({
    name: "galactic-panel-" + (r + 1), title: title,
    xRange: colEdges[0], yRange: rowEdges[r], barRange: barEdges[0],
    xDomain: [360, 285], yDomain: [-20, 30],
    grid: galacticGrid[r], starts: galacticStarts[r], holes: galacticHoles[r], strays: galacticStrays[r],
    gaps: r > 0 ? surveyGaps : null, outline: null, lift: toneLift[r * 2],
    xTicks: galacticXTicks, yTicks: galacticYTicks, showX: r === 2,
    xLabel: lLabel, yLabel: bLabel, yLabelX: 20,
    vmin: colourMinimum[r * 2], vmax: colourMaximum[r * 2]
  });
  drawPanel({
    name: "velocity-panel-" + (r + 1), title: title,
    xRange: colEdges[1], yRange: rowEdges[r], barRange: barEdges[1],
    xDomain: [-25, 0], yDomain: [-25, 15],
    grid: velocityGrid[r], starts: velocityStarts[r], holes: velocityHoles[r], strays: [],
    gaps: null, outline: r === 2 ? [selectionVAlpha, selectionVDelta] : null, lift: toneLift[r * 2 + 1],
    xTicks: velocityXTicks, yTicks: velocityYTicks, showX: r === 2,
    xLabel: vaLabel, yLabel: vdLabel, yLabelX: 634,
    vmin: colourMinimum[r * 2 + 1], vmax: colourMaximum[r * 2 + 1]
  });
});
</script>
</body>
</html>
